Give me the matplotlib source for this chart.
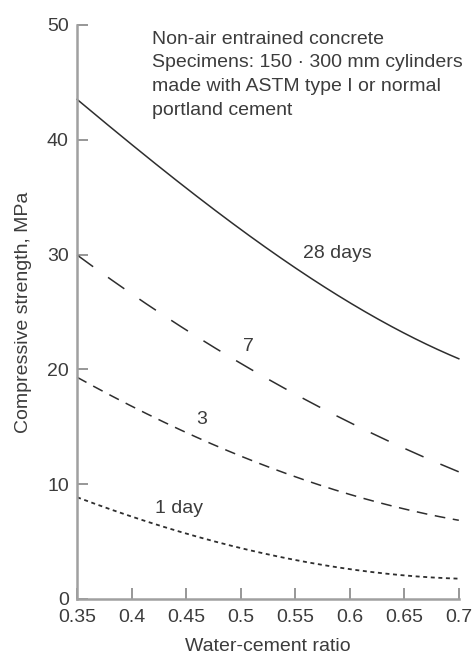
#!/usr/bin/env python3

import numpy as np
import matplotlib
matplotlib.use('Agg')
import matplotlib.pyplot as plt

# water-cement ratio and strength (MPa)
wc_ratio = [0.35, 0.40, 0.45, 0.50, 0.55, 0.60, 0.65, 0.70]
days_28 = [43.5, 39.6, 35.8, 32.2, 28.8, 25.8, 23.2, 20.9]
days_7 = [30.0, 26.5, 23.4, 20.6, 17.9, 15.3, 13.1, 11.1]
days_3 = [19.4, 16.6, 14.5, 12.6, 10.7, 9.0, 7.8, 6.9]
days_1 = [8.9, 7.1, 5.7, 4.5, 3.4, 2.6, 2.0, 1.8]

xticks = [0.35, 0.4, 0.45, 0.5, 0.55, 0.6, 0.65, 0.7]
xtick_labels = ['0.35', '0.4', '0.45', '0.5', '0.55', '0.6', '0.65', '0.7']
yticks = [0, 10, 20, 30, 40, 50]

note = ('Non-air entrained concrete\n'
		'Specimens: 150 \u00b7 300 mm cylinders\n'
		'made with ASTM type I or normal\n'
		'portland cement')


def smooth(x, y, n=200):
	# cubic fit through the read points, just to get a smooth curve
	xs = np.linspace(x[0], x[-1], n)
	coef = np.polyfit(x, y, 3)
	return xs, np.polyval(coef, xs)


def main():
	plt.rcParams['font.family'] = ['Liberation Sans', 'DejaVu Sans']
	plt.rcParams['font.size'] = 14

	fig = plt.figure(figsize=(4.73, 6.55), dpi=100)
	ax = fig.add_axes([0.163, 0.0855, 0.807, 0.8765])

	ink = '#2e2e2e'
	txt = '#3c3c3c'

	xs, ys = smooth(wc_ratio, days_28)
	ax.plot(xs, ys, color=ink, lw=1.1, clip_on=False)
	xs, ys = smooth(wc_ratio, days_7)
	ax.plot(xs, ys, color=ink, lw=1.1, dashes=(13, 12), clip_on=False)
	xs, ys = smooth(wc_ratio, days_3)
	ax.plot(xs, ys, color=ink, lw=1.1, dashes=(7, 5), clip_on=False)
	xs, ys = smooth(wc_ratio, days_1)
	ax.plot(xs, ys, color=ink, lw=1.3, dashes=(2.2, 2.0), clip_on=False)

	ax.text(0.557, 30.1, '28 days', color=txt, va='center', ha='left')
	ax.text(0.507, 21.95, '7', color=txt, va='center', ha='center')
	ax.text(0.4645, 15.6, '3', color=txt, va='center', ha='center')
	ax.text(0.4215, 7.9, '1 day', color=txt, va='center', ha='left')
	ax.text(0.4187, 49.5, note, color=txt, va='top', ha='left', linespacing=1.52)

	ax.set_xlim(0.35, 0.7)
	ax.set_ylim(0, 50)
	ax.set_xticks(xticks)
	ax.set_xticklabels(xtick_labels)
	ax.set_yticks(yticks)

	for s in ['top', 'right']:
		ax.spines[s].set_visible(False)
	for s in ['left', 'bottom']:
		ax.spines[s].set_color('#a0a0a0')
		ax.spines[s].set_linewidth(1.8)

	ax.tick_params(axis='both', direction='in', length=8, width=1.1, color='#7a7a7a', labelcolor=txt)
	ax.tick_params(axis='x', pad=7)
	ax.tick_params(axis='y', pad=6)

	ax.set_xlabel('Water-cement ratio', color=txt, labelpad=9)
	ax.set_ylabel('Compressive strength, MPa', color=txt, labelpad=11)

	plt.savefig('out.png', dpi=100)


if __name__ == '__main__':
	main()
